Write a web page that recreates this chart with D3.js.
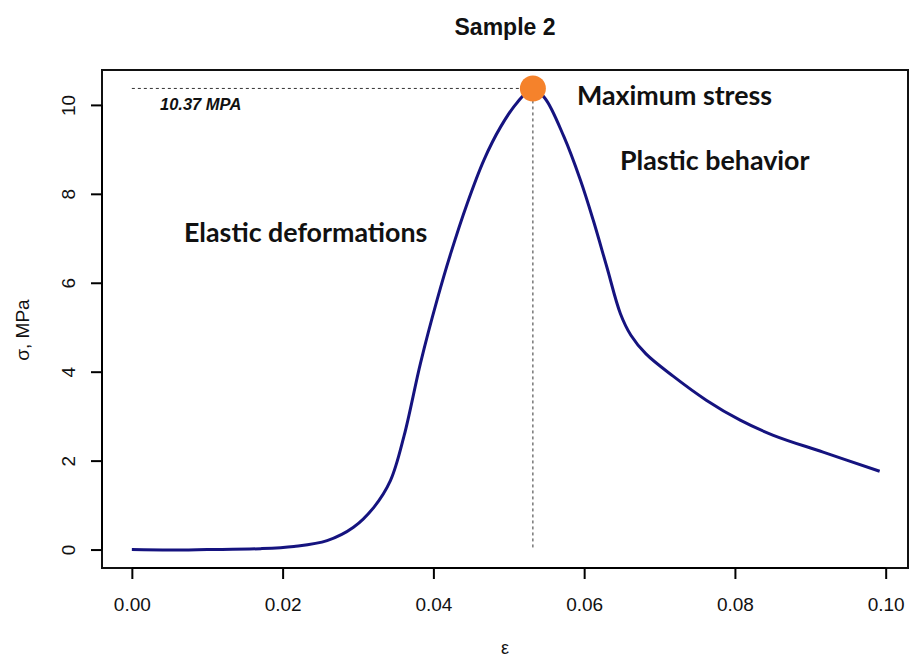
<!DOCTYPE html>
<html>
<head>
    <meta charset="utf-8">
    <script src="https://d3js.org/d3.v7.min.js"></script>
    <style type="text/css">
        body { margin: 0; background: #fff; }
        svg text { font-family: "Liberation Sans", Arial, sans-serif; }
        .note { font-family: Lato, "Open Sans", sans-serif; font-weight: bold; fill: #111; }
    </style>
</head>
<body>
<svg id="chart" width="909" height="659"></svg>
<script type="text/javascript">
    // strain / stress readings, Sample 2
    var strain = [0, 0.005, 0.01, 0.0171, 0.0215, 0.0259, 0.0294, 0.0321, 0.0343, 0.0361,
                  0.0383, 0.0405, 0.0423, 0.0445, 0.0467, 0.0489, 0.0511, 0.0532,
                  0.0548, 0.0573, 0.0595, 0.0612, 0.0630, 0.0648, 0.0662, 0.0682, 0.0718,
                  0.0762, 0.0807, 0.0851, 0.0917, 0.0992];
    var stress = [0, -0.01, 0, 0.02, 0.07, 0.2, 0.5, 0.95, 1.55, 2.55,
                  4.2, 5.62, 6.66, 7.79, 8.76, 9.5, 10.05, 10.37,
                  10.15, 9.29, 8.31, 7.41, 6.36, 5.31, 4.82, 4.4, 3.9,
                  3.36, 2.91, 2.57, 2.19, 1.76];
    var xTicks = [0, 0.02, 0.04, 0.06, 0.08, 0.10];
    var yTicks = [0, 2, 4, 6, 8, 10];
    var maxStrain = 0.0532, maxStress = 10.37;

    var svg = d3.select("#chart");
    var pLeft = 102, pRight = 908, pTop = 70, pBottom = 568;

    var x = d3.scaleLinear().domain([-0.00396, 0.10296]).range([pLeft, pRight]);
    var y = d3.scaleLinear().domain([-0.4148, 10.7848]).range([pBottom, pTop]);

    // box
    svg.append("rect")
        .attr("x", pLeft).attr("y", pTop)
        .attr("width", pRight - pLeft).attr("height", pBottom - pTop)
        .attr("fill", "none").attr("stroke", "#111").attr("stroke-width", 2);

    // axes
    var xAxis = svg.append("g").attr("transform", "translate(0," + pBottom + ")")
        .call(d3.axisBottom(x).tickValues(xTicks).tickSize(11).tickPadding(19)
            .tickFormat(d3.format(".2f")));
    var yAxis = svg.append("g").attr("transform", "translate(" + pLeft + ",0)")
        .call(d3.axisLeft(y).tickValues(yTicks).tickSize(11).tickFormat(d3.format("d")));
    xAxis.attr("font-size", 19).attr("font-family", "Liberation Sans, Arial, sans-serif");
    yAxis.attr("font-size", 19).attr("font-family", "Liberation Sans, Arial, sans-serif");
    xAxis.select(".domain").attr("d", "M" + x(0) + ",0H" + x(0.10)).attr("stroke-width", 2);
    yAxis.select(".domain").attr("d", "M0," + y(0) + "V" + y(10)).attr("stroke-width", 2);
    xAxis.selectAll(".tick line").attr("stroke-width", 2);
    yAxis.selectAll(".tick line").attr("stroke-width", 2);
    xAxis.selectAll(".tick text").attr("fill", "#111");
    yAxis.selectAll(".tick text")
        .attr("fill", "#111")
        .attr("x", null).attr("dy", null)
        .attr("text-anchor", "middle")
        .attr("transform", "translate(-32,0) rotate(-90)")
        .attr("y", 5);

    // reference lines to the peak
    svg.append("line")
        .attr("x1", x(0)).attr("x2", x(maxStrain))
        .attr("y1", y(maxStress)).attr("y2", y(maxStress))
        .attr("stroke", "#333").attr("stroke-dasharray", "3,3").attr("stroke-width", 1);
    svg.append("line")
        .attr("x1", x(maxStrain)).attr("x2", x(maxStrain))
        .attr("y1", y(maxStress)).attr("y2", y(0))
        .attr("stroke", "#333").attr("stroke-dasharray", "3,3").attr("stroke-width", 1);

    // curve
    var pts = strain.map(function(d, i) { return [d, stress[i]]; });
    svg.append("path")
        .datum(pts)
        .attr("d", d3.line().x(function(d) { return x(d[0]); })
            .y(function(d) { return y(d[1]); }).curve(d3.curveCatmullRom.alpha(0.5)))
        .attr("fill", "none").attr("stroke", "#15137f").attr("stroke-width", 3);

    svg.append("circle")
        .attr("cx", x(maxStrain)).attr("cy", y(maxStress)).attr("r", 13)
        .attr("fill", "#f5822b");

    // texts
    svg.append("text").attr("x", (pLeft + pRight) / 2).attr("y", 35)
        .attr("text-anchor", "middle").attr("font-size", 23).attr("font-weight", "bold")
        .attr("fill", "#111").text("Sample 2");
    svg.append("text").attr("x", (pLeft + pRight) / 2).attr("y", 654)
        .attr("text-anchor", "middle").attr("font-size", 18).attr("fill", "#111").text("ε");
    svg.append("text").attr("transform", "translate(29,330) rotate(-90)")
        .attr("text-anchor", "middle").attr("font-size", 19).attr("fill", "#111").text("σ, MPa");
    svg.append("text").attr("x", 160).attr("y", 110)
        .attr("font-size", 16.5).attr("font-weight", "bold").attr("font-style", "italic")
        .attr("fill", "#111").text("10.37 MPA");

    svg.append("text").attr("class", "note").attr("x", 577).attr("y", 105)
        .attr("font-size", 26.8).text("Maximum stress");
    svg.append("text").attr("class", "note").attr("x", 620).attr("y", 170)
        .attr("font-size", 26.8).text("Plastic behavior");
    svg.append("text").attr("class", "note").attr("x", 184).attr("y", 242)
        .attr("font-size", 26.8).text("Elastic deformations");
</script>
</body>
</html>
